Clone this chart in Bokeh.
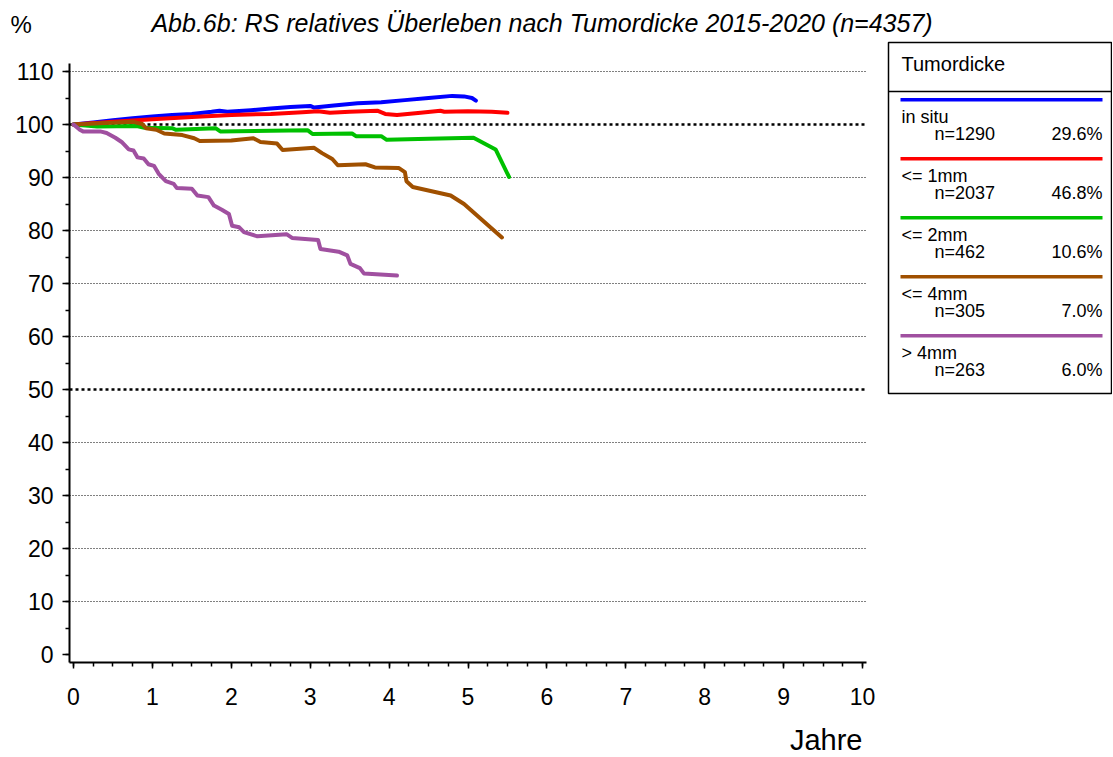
from bokeh.plotting import figure
from bokeh.models import Range1d, FixedTicker
from bokeh.embed import file_html
from bokeh.resources import INLINE
from bokeh.core.properties import value

# ---------------- data ----------------
title_text = "Abb.6b: RS relatives Überleben nach Tumordicke 2015-2020  (n=4357)"
y_unit = "%"
x_title = "Jahre"

insitu_t = [0, 0.25, 0.5, 0.75, 1.0, 1.25, 1.5, 1.75, 1.85, 1.95, 2.25, 2.5, 2.75, 3.0, 3.05,
            3.3, 3.6, 3.9, 4.2, 4.5, 4.8, 4.95, 5.05, 5.1]
insitu_v = [100, 100.4, 100.8, 101.2, 101.5, 101.8, 102.0, 102.4, 102.6, 102.4, 102.7, 103.0,
            103.3, 103.5, 103.2, 103.6, 104.0, 104.2, 104.6, 105.0, 105.4, 105.3, 105.0, 104.5]

mm1_t = [0, 0.5, 1.0, 1.5, 2.0, 2.5, 2.9, 3.1, 3.25, 3.5, 3.85, 3.95, 4.1, 4.4, 4.65, 4.7,
         5.0, 5.3, 5.5]
mm1_v = [100, 100.5, 101.0, 101.4, 101.8, 102.0, 102.3, 102.5, 102.2, 102.4, 102.6, 102.0,
         101.8, 102.2, 102.6, 102.4, 102.5, 102.4, 102.2]

mm2_t = [0, 0.15, 0.3, 0.8, 0.9, 1.25, 1.3, 1.8, 1.86, 2.5, 2.97, 3.03, 3.53, 3.58, 3.9, 3.97,
         4.5, 5.07, 5.35, 5.52]
mm2_v = [100, 99.8, 99.6, 99.7, 99.4, 99.3, 99.0, 99.3, 98.7, 98.8, 98.9, 98.2, 98.3, 97.8,
         97.8, 97.1, 97.3, 97.5, 95.3, 90.1]

mm4_t = [0, 0.4, 0.76, 0.87, 0.92, 1.05, 1.15, 1.38, 1.53, 1.6, 2.0, 2.28, 2.37, 2.58, 2.65,
         3.05, 3.15, 3.28, 3.35, 3.7, 3.82, 4.12, 4.2, 4.22, 4.3, 4.78, 4.95, 5.43]
mm4_v = [100, 100.3, 100.5, 100.1, 99.3, 99.0, 98.3, 98.0, 97.4, 96.9, 97.0, 97.4, 96.7, 96.4,
         95.2, 95.6, 94.6, 93.5, 92.3, 92.5, 91.9, 91.8, 91.0, 89.3, 88.2, 86.6, 85.0, 78.7]

gt4_t = [0, 0.08, 0.12, 0.34, 0.42, 0.53, 0.61, 0.7, 0.76, 0.81, 0.89, 0.95, 1.02, 1.08, 1.17,
         1.27, 1.31, 1.5, 1.57, 1.71, 1.78, 1.88, 1.97, 2.01, 2.1, 2.16, 2.33, 2.7, 2.77, 3.1,
         3.13, 3.36, 3.47, 3.51, 3.63, 3.68, 4.1]
gt4_v = [100, 99.0, 98.7, 98.7, 98.4, 97.5, 96.7, 95.3, 95.1, 93.8, 93.6, 92.5, 92.2, 90.7,
         89.3, 88.8, 88.0, 87.9, 86.6, 86.3, 84.7, 83.9, 83.1, 80.9, 80.6, 79.7, 78.9, 79.3,
         78.6, 78.2, 76.5, 76.0, 75.3, 73.7, 72.9, 71.9, 71.5]

legend_title = "Tumordicke"
legend_names = ["in situ", "<= 1mm", "<= 2mm", "<= 4mm", "> 4mm"]
legend_n = ["n=1290", "n=2037", "n=462", "n=305", "n=263"]
legend_pct = ["29.6%", "46.8%", "10.6%", "7.0%", "6.0%"]
colors = ["#0000FF", "#FF0000", "#00C000", "#A05000", "#A050A0"]

x_ticks = list(range(0, 11))
y_ticks = list(range(0, 111, 10))
grid_values = list(range(10, 111, 10))
bold_grid = [50, 100]

# ---------------- layout (canvas pixels) ----------------
W, H = 1112, 756
X0PX, PXY = 73, 78.9     # canvas x of year 0, px per year
Y0PX, PXV = 654, 5.3     # canvas y of 0 %, px per percent
x_start = -X0PX / PXY
x_end = (W - X0PX) / PXY
y_start = (Y0PX - H) / PXV
y_end = Y0PX / PXV
x_axis_at = (Y0PX - 662) / PXV     # x axis line sits 8 px below 0 %
y_axis_at = (69 - X0PX) / PXY      # y axis line sits 4 px left of year 0
x_axis_end = 10 + 4 / PXY
y_axis_top = (Y0PX - 63) / PXV
FONT = "Liberation Sans"

p = figure(width=W, height=H, x_range=Range1d(x_start, x_end), y_range=Range1d(y_start, y_end),
           output_backend="svg", toolbar_location=None,
           min_border_left=0, min_border_right=0, min_border_top=0, min_border_bottom=0)
p.extra_x_ranges = {"px": Range1d(0, W)}
p.extra_y_ranges = {"px": Range1d(H, 0)}
p.outline_line_color = None
p.background_fill_color = "white"
p.border_fill_color = "white"
p.xgrid.visible = False
p.ygrid.visible = False

# axes (fixed inside the canvas)
xa = p.xaxis[0]
xa.fixed_location = x_axis_at
xa.ticker = FixedTicker(ticks=x_ticks, minor_ticks=[i * 0.25 for i in range(41)])
xa.bounds = (y_axis_at, x_axis_end)
xa.axis_line_width = 2
xa.major_tick_in = 0
xa.major_tick_out = 6
xa.minor_tick_in = 0
xa.minor_tick_out = 4
xa.major_tick_line_width = 1.5
xa.minor_tick_line_width = 1.5
xa.major_label_text_font = FONT
xa.major_label_text_font_size = "23px"
xa.major_label_text_color = "black"
xa.major_label_standoff = 19

ya = p.yaxis[0]
ya.fixed_location = y_axis_at
ya.ticker = FixedTicker(ticks=y_ticks, minor_ticks=list(range(0, 111, 5)))
ya.bounds = (x_axis_at, y_axis_top)
ya.axis_line_width = 2
ya.major_tick_in = 0
ya.major_tick_out = 7
ya.minor_tick_in = 0
ya.minor_tick_out = 4
ya.major_tick_line_width = 1.5
ya.minor_tick_line_width = 1.5
ya.major_label_text_font = FONT
ya.major_label_text_font_size = "23px"
ya.major_label_text_color = "black"
ya.major_label_standoff = 9

# grid lines
thin = [g for g in grid_values if g not in bold_grid]
p.segment(x0=[y_axis_at] * len(thin), x1=[x_axis_end] * len(thin), y0=thin, y1=thin,
          line_color="black", line_width=1, line_dash="1 2")
p.segment(x0=[y_axis_at] * len(bold_grid), x1=[x_axis_end] * len(bold_grid), y0=bold_grid,
          y1=bold_grid, line_color="black", line_width=2.5, line_dash="3 3")

# curves
for t, v, c in [(insitu_t, insitu_v, colors[0]), (mm1_t, mm1_v, colors[1]),
                (mm2_t, mm2_v, colors[2]), (mm4_t, mm4_v, colors[3]), (gt4_t, gt4_v, colors[4])]:
    p.line(t, v, line_color=c, line_width=4, line_join="round", line_cap="round")

txt = dict(x_range_name="px", y_range_name="px", text_font=value(FONT), text_color="black",
           text_baseline="middle")

# title, unit, axis title
p.text(x=[545], y=[22], text=[title_text], text_align="center",
       text_font_style="italic", text_font_size="25px", **txt)
p.text(x=[10], y=[24], text=[y_unit], text_align="left", text_font_size="24px", **txt)
p.text(x=[862], y=[739], text=[x_title], text_align="right", text_font_size="29px", **txt)

# legend box
p.quad(left=[888], right=[1111], top=[42], bottom=[393], fill_color="white",
       line_color="black", line_width=1.5, x_range_name="px", y_range_name="px")
p.segment(x0=[888], x1=[1111], y0=[91], y1=[91], line_color="black", line_width=1.5,
          x_range_name="px", y_range_name="px")
p.text(x=[901], y=[63], text=[legend_title], text_align="left", text_font_size="20px", **txt)
n = len(legend_names)
ly = [99.3 + 59 * k for k in range(n)]
p.segment(x0=[900] * n, x1=[1102] * n, y0=ly, y1=ly, line_color=colors, line_width=3.5,
          x_range_name="px", y_range_name="px")
p.text(x=[901] * n, y=[y + 17 for y in ly], text=legend_names, text_align="left",
       text_font_size="18px", **txt)
p.text(x=[934] * n, y=[y + 34 for y in ly], text=legend_n, text_align="left",
       text_font_size="18px", **txt)
p.text(x=[1102] * n, y=[y + 34 for y in ly], text=legend_pct, text_align="right",
       text_font_size="18px", **txt)

open("out.html", "w").write(file_html(p, INLINE))
